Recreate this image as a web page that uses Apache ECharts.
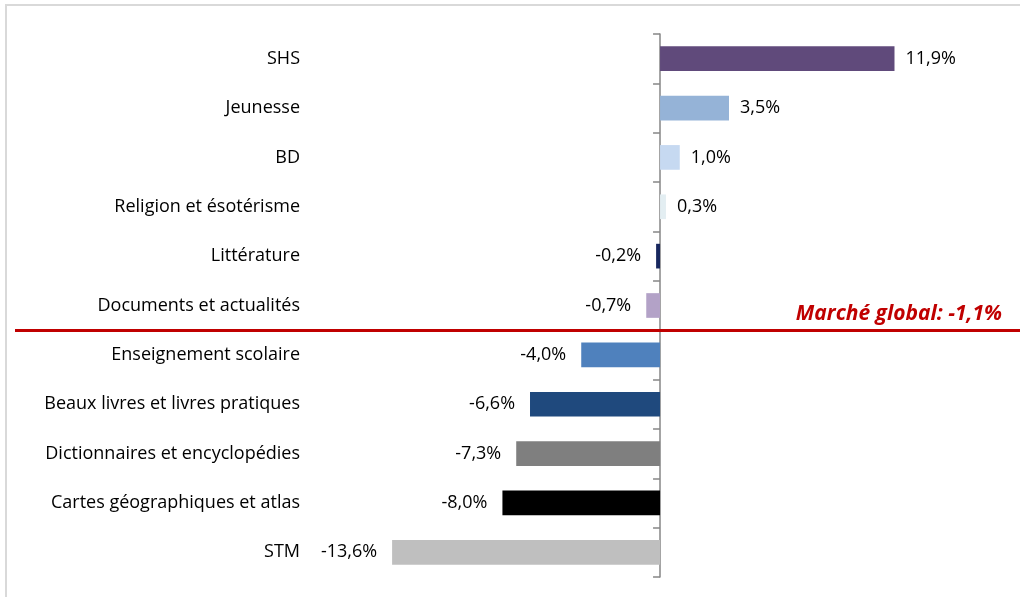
<!DOCTYPE html>
<html>
<head>
<meta charset="utf-8">
<script src="https://cdn.jsdelivr.net/npm/echarts@6/dist/echarts.min.js"></script>
<style>html,body{margin:0;padding:0;background:#fff}#c{width:1020px;height:597px}</style>
</head>
<body>
<div id="c"></div>
<script>
const categories = ["SHS","Jeunesse","BD","Religion et ésotérisme","Littérature","Documents et actualités","Enseignement scolaire","Beaux livres et livres pratiques","Dictionnaires et encyclopédies","Cartes géographiques et atlas","STM"];
const values = [11.9, 3.5, 1.0, 0.3, -0.2, -0.7, -4.0, -6.6, -7.3, -8.0, -13.6];
const colors = ["#604a7b","#95b3d7","#c6d9f1","#e3eef2","#17275e","#b3a2c7","#4f81bd","#1f497d","#7f7f7f","#000000","#bfbfbf"];
const globalValue = -1.1;
const globalPosition = 5.5; // between "Documents et actualités" and "Enseignement scolaire"
const globalLabel = "Marché global: ";

const FONT = "'Open Sans'";
const fmt = v => v.toFixed(1).replace('.', ',') + '%';

const chart = echarts.init(document.getElementById('c'), null, {renderer:'canvas'});
const barData = values.map((v, i) => ({
  value: v,
  itemStyle: {color: colors[i]},
  label: {position: v >= 0 ? 'right' : 'left', distance: v >= 0 ? 11 : 15}
}));

chart.setOption({
  animation: false,
  backgroundColor: '#fff',
  graphic: [{
    type: 'rect', shape: {x: 6, y: 5, width: 1100, height: 700},
    style: {fill: 'none', stroke: '#d9d9d9', lineWidth: 2}, silent: true
  }],
  grid: {left: 15, right: 0, top: 34, bottom: 20, containLabel: false, outerBoundsMode: 'none'},
  xAxis: {type: 'value', min: -32.74, max: 18.27, show: false},
  yAxis: [{
    type: 'category', data: categories, inverse: true,
    axisLine: {show: true, onZero: true, lineStyle: {color: '#868686', width: 1.5}},
    axisTick: {show: true, length: 7, lineStyle: {color: '#868686', width: 1.5}},
    axisLabel: {show: false},
    splitLine: {show: false}
  }, {
    type: 'value', min: -0.5, max: 10.5, inverse: true, show: false
  }, {
    type: 'category', data: categories, inverse: true, position: 'left', offset: -285,
    axisLine: {show: false, onZero: false}, axisTick: {show: false},
    axisLabel: {show: true, margin: 0, color: '#000', fontFamily: FONT, fontSize: 18},
    splitLine: {show: false}
  }],
  series: [{
    type: 'bar', data: barData, barWidth: '50%',
    label: {show: true, color: '#000', fontFamily: FONT, fontSize: 18, formatter: p => fmt(p.value)}
  }, {
    type: 'line', yAxisIndex: 1, data: [], symbol: 'none',
    markLine: {
      silent: true, symbol: 'none',
      lineStyle: {color: '#c00000', width: 3, type: 'solid'},
      label: {
        show: true, position: 'insideEndTop', distance: [18, 6],
        formatter: globalLabel + fmt(globalValue),
        color: '#c00000', fontFamily: FONT, fontSize: 21, fontWeight: 'bold', fontStyle: 'italic'
      },
      data: [{yAxis: globalPosition}]
    }
  }]
});
</script>
</body>
</html>
